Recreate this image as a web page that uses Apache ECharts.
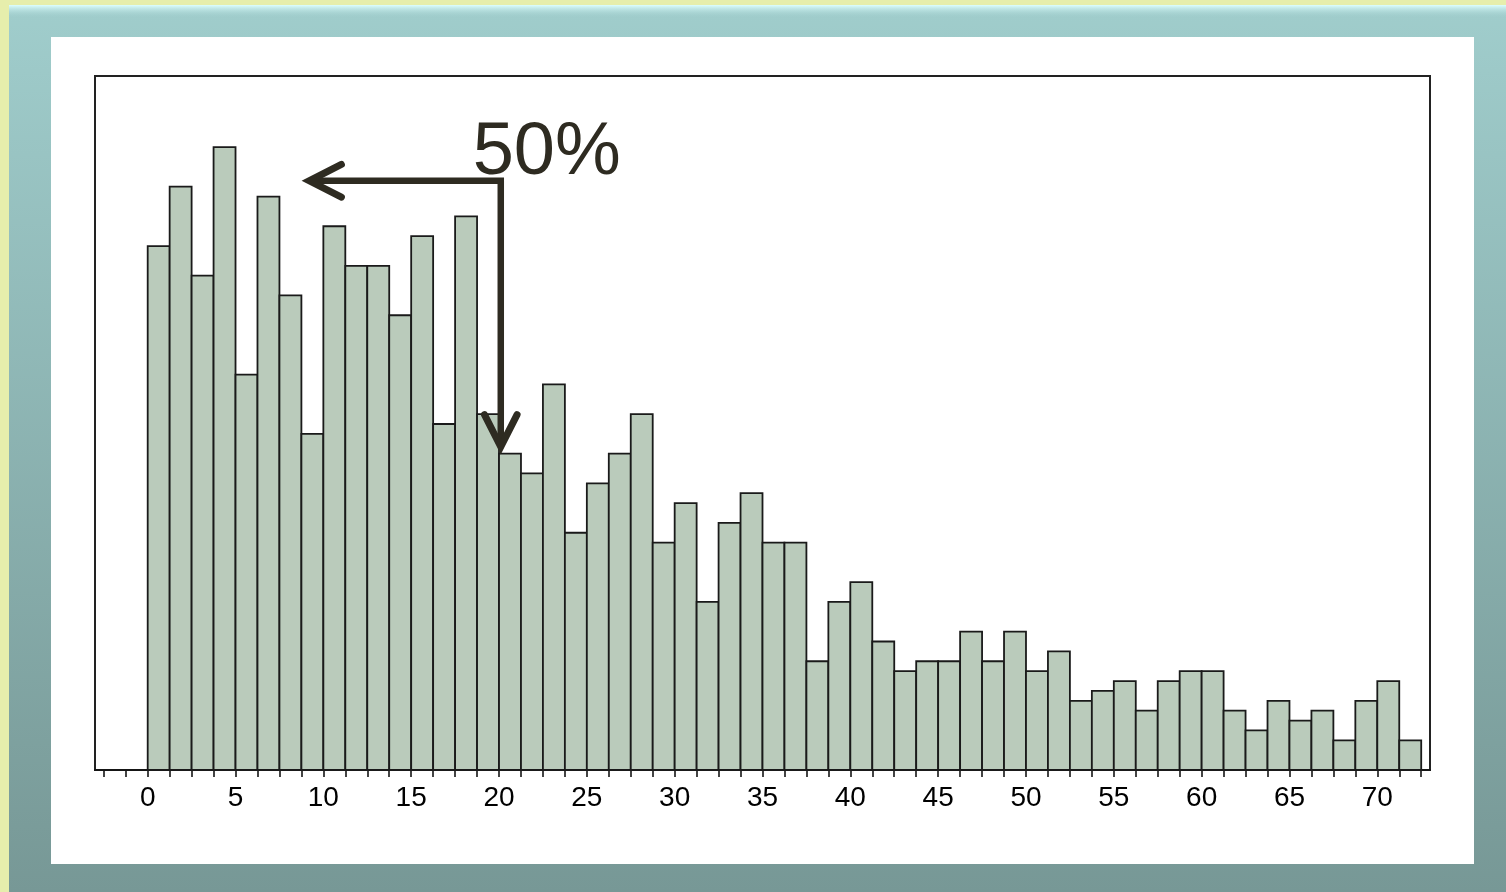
<!DOCTYPE html>
<html>
<head>
<meta charset="utf-8">
<script src="https://cdn.jsdelivr.net/npm/echarts@6/dist/echarts.min.js"></script>
<style>
html,body{margin:0;padding:0;background:#E6EEAC;}
#chart{width:1506px;height:892px;}
</style>
</head>
<body>
<div id="chart"></div>
<script>
// ---- data ----
const binStart = 0;
const binWidth = 1.25;
const counts = [53,59,50,63,40,58,48,34,55,51,51,46,54,35,56,36,32,30,39,24,29,32,36,23,27,17,25,28,23,23,11,17,19,13,10,11,11,14,11,14,10,12,7,8,9,6,9,10,10,6,4,7,5,6,3,7,9,3];
const xLabels = [0,5,10,15,20,25,30,35,40,45,50,55,60,65,70];
const xMin = -3, xMax = 73, yMax = 70.2;
const arrowPath = [[9.2,59.6],[20.1,59.6],[20.1,32.7]];
const noteText = '50%';
const notePos = [18.5,62.4];

// histogram rows [start, end, count]
const bins = counts.map((c,i)=>[binStart+i*binWidth, binStart+(i+1)*binWidth, c]);
const tickValues = [];
for (let v = -2.5; v <= binStart + counts.length*binWidth + 1e-9; v += binWidth) tickValues.push(+v.toFixed(4));

const chart = echarts.init(document.getElementById('chart'), null, {renderer:'canvas'});

function arrowHead(tip, from, len, ang){
  const dx = tip[0]-from[0], dy = tip[1]-from[1];
  const d = Math.hypot(dx,dy) || 1;
  const ux = dx/d, uy = dy/d;
  const pts = [];
  for (const s of [1,-1]){
    const c = Math.cos(s*ang), sn = Math.sin(s*ang);
    const rx = ux*c - uy*sn, ry = ux*sn + uy*c;
    pts.push([tip[0]-rx*len, tip[1]-ry*len]);
  }
  return [pts[0], tip, pts[1]];
}

const option = {
  backgroundColor: '#E6EEAC',
  animation: false,
  graphic: [
    {type:'rect', z:-10, silent:true, shape:{x:9,y:5,width:1497,height:887},
     style:{fill:new echarts.graphic.LinearGradient(0,0,0,1,[{offset:0,color:'#A0CDCC'},{offset:1,color:'#779896'}])}},
    {type:'rect', z:-9, silent:true, shape:{x:9,y:5,width:1497,height:13},
     style:{fill:new echarts.graphic.LinearGradient(0,0,0,1,[{offset:0,color:'#DDFFFF'},{offset:1,color:'rgba(160,205,204,0)'}])}},
    {type:'rect', z:-8, silent:true, shape:{x:51,y:37,width:1423,height:827}, style:{fill:'#FFFFFF'}}
  ],
  grid: {left:95, right:76, top:76, bottom:122, show:true, borderColor:'#222222', borderWidth:2, backgroundColor:'transparent', outerBoundsMode:'none'},
  xAxis: {
    type:'value', min:xMin, max:xMax,
    splitLine:{show:false},
    axisLine:{show:true, onZero:false, lineStyle:{color:'#151515', width:2}},
    axisTick:{show:true, customValues: tickValues, length:7, lineStyle:{color:'#151515', width:1.6}},
    axisLabel:{show:true, customValues: xLabels, fontFamily:'Liberation Sans, Arial, sans-serif', fontSize:28, color:'#000', margin:14}
  },
  yAxis: {
    type:'value', min:0, max:yMax, show:false, splitLine:{show:false}
  },
  series: [
    {
      type:'custom',
      data: bins,
      encode:{x:[0,1], y:2},
      renderItem: function(params, api){
        const p0 = api.coord([api.value(0), 0]);
        const p1 = api.coord([api.value(1), api.value(2)]);
        return {
          type:'rect',
          shape:{x:p0[0], y:p1[1], width:p1[0]-p0[0], height:p0[1]-p1[1]},
          style:{fill:'#BACBBB', stroke:'#1A1A1A', lineWidth:1.8}
        };
      }
    },
    {
      type:'custom',
      data:[[0]],
      z:10,
      silent:true,
      renderItem: function(params, api){
        const pts = arrowPath.map(p=>api.coord(p));
        const h1 = arrowHead(pts[0], pts[1], 36, 0.47);
        const h2 = arrowHead(pts[2], pts[1], 36, 0.47);
        const tp = api.coord(notePos);
        const col = '#2E2B21';
        return {
          type:'group',
          children:[
            {type:'polyline', shape:{points:pts}, style:{stroke:col, lineWidth:6.5, fill:null, lineJoin:'miter'}},
            {type:'polyline', shape:{points:h1}, style:{stroke:col, lineWidth:7, fill:null, lineCap:'round', lineJoin:'miter'}},
            {type:'polyline', shape:{points:h2}, style:{stroke:col, lineWidth:7, fill:null, lineCap:'round', lineJoin:'miter'}},
            {type:'text', x:tp[0], y:tp[1], style:{text:noteText, fill:col, font:'74px "Liberation Sans", Arial, sans-serif', textAlign:'left', textVerticalAlign:'middle'}}
          ]
        };
      }
    }
  ]
};
chart.setOption(option);
</script>
</body>
</html>
